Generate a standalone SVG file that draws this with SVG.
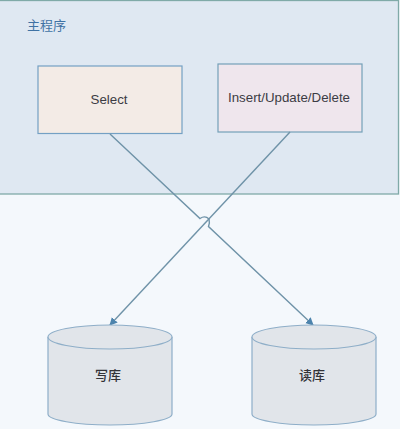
<svg xmlns="http://www.w3.org/2000/svg" width="400" height="429" viewBox="0 0 400 429">
<style>
.t{font-family:"Liberation Sans","Noto Sans CJK SC",sans-serif;font-size:13.300px;fill:#3c3c44;text-anchor:middle}
.c{font-family:"Noto Sans CJK SC","Liberation Sans",sans-serif;font-size:13px;font-weight:500;fill:#333338;text-anchor:middle}
.l{fill:none;stroke:#6f93a8;stroke-width:1.400}
.cy{fill:#e1e5ea;stroke:#8eaec8;stroke-width:1.200}
</style>
<defs>
<marker id="a" markerUnits="userSpaceOnUse" markerWidth="10" markerHeight="10" refX="7" refY="4" orient="auto"><path d="M0 0L8 4L0 8Z" fill="#4d84ad"/></marker>
</defs>
<rect width="400" height="429" fill="#f4f8fc"/>
<g id="main">
<rect x="-1" y="0.500" width="399.500" height="193.500" fill="#dfe8f2" stroke="#80aaa8" stroke-width="1.300"/>
<text x="27" y="30" style="font-family:'Noto Sans CJK SC',sans-serif;font-size:13px;fill:#3f72a4">主程序</text>
</g>
<g id="select">
<rect x="38" y="66" width="144" height="67.500" fill="#f3ebe6" stroke="#74a0c4" stroke-width="1.200"/>
<text class="t" x="109" y="103.500">Select</text>
</g>
<g id="iud">
<rect x="218" y="64" width="144" height="68" fill="#efe6ed" stroke="#74a0b8" stroke-width="1.200"/>
<text class="t" x="289" y="101.500">Insert/Update/Delete</text>
</g>
<g id="connectors">
<path class="l" marker-end="url(#a)" d="M110 134L200 218.500Q205 215 209 219Q210 223 208.500 226.500L313 325"/>
<path class="l" marker-end="url(#a)" d="M290 132L110 325"/>
</g>
<g id="write">
<path class="cy" d="M48 337V414C48 420 76 425 110 425S172 420 172 414V337"/>
<ellipse class="cy" cx="110" cy="337" rx="62" ry="12"/>
<text class="c" x="108" y="380">写库</text>
</g>
<g id="read">
<path class="cy" d="M252 337V414C252 420 280 425 314 425S376 420 376 414V337"/>
<ellipse class="cy" cx="314" cy="337" rx="62" ry="12"/>
<text class="c" x="312" y="380">读库</text>
</g>
</svg>
